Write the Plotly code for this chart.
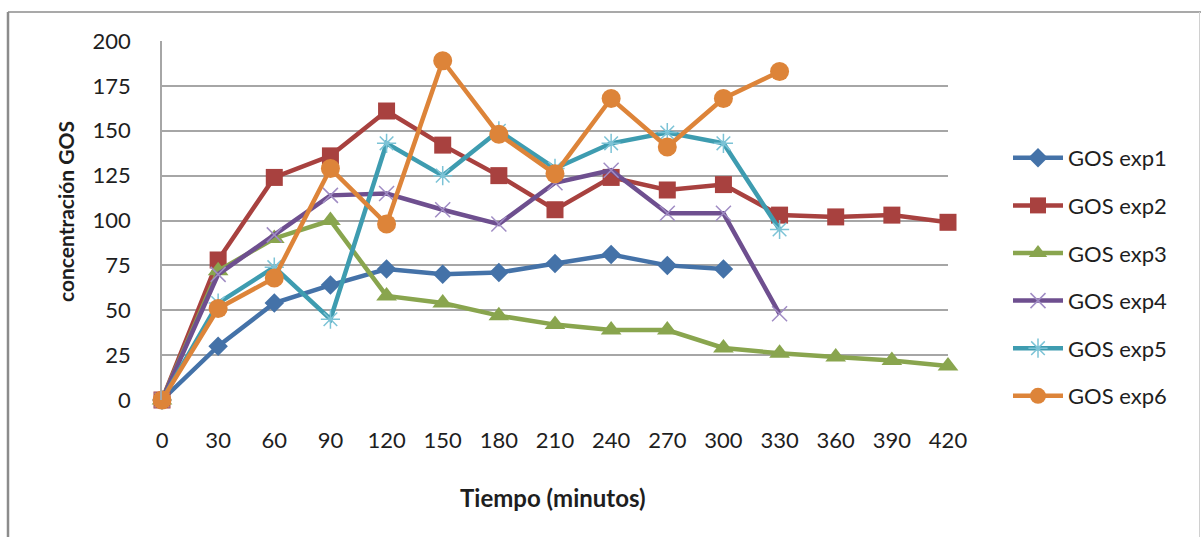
import plotly.graph_objects as go

# Time points (minutes) and GOS concentration per experiment
tiempo = [0, 30, 60, 90, 120, 150, 180, 210, 240, 270, 300, 330, 360, 390, 420]

gos_exp1 = [0, 30, 54, 64, 73, 70, 71, 76, 81, 75, 73]
gos_exp2 = [0, 78, 124, 136, 161, 142, 125, 106, 124, 117, 120, 103, 102, 103, 99]
gos_exp3 = [0, 72, 90, 100, 58, 54, 47, 42, 39, 39, 29, 26, 24, 22, 19]
gos_exp4 = [0, 70, 92, 114, 115, 106, 98, 121, 128, 104, 104, 48]
gos_exp5 = [0, 54, 74, 45, 143, 125, 150, 129, 143, 149, 143, 95]
gos_exp6 = [0, 51, 68, 129, 98, 189, 148, 126, 168, 141, 168, 183]

series_names = ["GOS exp1", "GOS exp2", "GOS exp3", "GOS exp4", "GOS exp5", "GOS exp6"]
y_ticks = [0, 25, 50, 75, 100, 125, 150, 175, 200]

FONT = "Lato"
TEXT = "#1e1e1e"

styles = [
    dict(color="#4472A8", symbol="diamond", size=15, mcolor="#4472A8", lw=0),
    dict(color="#A8413F", symbol="square", size=17, mcolor="#A8413F", lw=0),
    dict(color="#89A54E", symbol="triangle-up", size=18, mcolor="#89A54E", lw=0),
    dict(color="#6E4F8F", symbol="x-thin", size=15, mcolor="#A08CC4", lw=1.5),
    dict(color="#3E9CB0", symbol="asterisk", size=16, mcolor="#7CC3D6", lw=1.5),
    dict(color="#DD8439", symbol="circle", size=19, mcolor="#DD8439", lw=0),
]

data = [gos_exp1, gos_exp2, gos_exp3, gos_exp4, gos_exp5, gos_exp6]

fig = go.Figure()
for i, (name, vals, st) in enumerate(zip(series_names, data, styles)):
    marker = dict(symbol=st["symbol"], size=st["size"], color=st["mcolor"])
    if st["lw"]:
        marker["line"] = dict(color=st["mcolor"], width=st["lw"])
    else:
        marker["line"] = dict(width=0)
    fig.add_trace(go.Scatter(
        x=tiempo[:len(vals)], y=vals, name=name, mode="lines+markers",
        line=dict(color=st["color"], width=4.5),
        marker=marker, cliponaxis=False, legendgroup=f"g{i}",
    ))

L, R, T, B = 162, 253, 41, 137
W, H = 1201, 537
pw, ph = W - L - R, H - T - B


def px_x(p):
    return (p - L) / pw


def px_y(p):
    return (H - B - p) / ph


fig.update_layout(
    width=W, height=H,
    margin=dict(l=L, r=R, t=T, b=B),
    paper_bgcolor="white", plot_bgcolor="white",
    font=dict(family=FONT, size=22, color=TEXT),
    showlegend=True,
    legend=dict(
        x=px_x(1008), y=px_y(137), xanchor="left", yanchor="top",
        font=dict(family=FONT, size=22, color=TEXT),
        tracegroupgap=16, itemwidth=50, bgcolor="rgba(0,0,0,0)",
    ),
    xaxis=dict(
        range=[0, 420], tickvals=tiempo, ticktext=[str(t) for t in tiempo],
        showgrid=False, zeroline=False, showline=False, ticks="",
        ticklabelstandoff=25, fixedrange=True,
    ),
    yaxis=dict(
        range=[0, 200], tickvals=y_ticks, showgrid=True, gridcolor="#A6A6A6",
        gridwidth=1.5, zeroline=False, showline=True, linecolor="#A6A6A6",
        linewidth=1.5, ticks="", ticklabelstandoff=25, fixedrange=True,
    ),
    annotations=[
        dict(text="<b>Tiempo (minutos)</b>", xref="paper", yref="paper",
             x=px_x(553), y=px_y(498), showarrow=False, xanchor="center", yanchor="middle",
             font=dict(family=FONT, size=24, color=TEXT)),
        dict(text="<b>concentración GOS</b>", xref="paper", yref="paper",
             x=px_x(65), y=px_y(212), showarrow=False, textangle=-90,
             xanchor="center", yanchor="middle",
             font=dict(family=FONT, size=21, color=TEXT)),
    ],
    shapes=[
        # chart frame: left, top and right edges
        dict(type="line", xref="paper", yref="paper", x0=px_x(8), x1=px_x(8),
             y0=px_y(12), y1=px_y(540), line=dict(color="#8C8C8C", width=2.5)),
        dict(type="line", xref="paper", yref="paper", x0=px_x(8), x1=px_x(1202),
             y0=px_y(12), y1=px_y(12), line=dict(color="#8C8C8C", width=1.5)),
        dict(type="line", xref="paper", yref="paper", x0=px_x(1199.5), x1=px_x(1199.5),
             y0=px_y(12), y1=px_y(540), line=dict(color="#D0D0D0", width=1)),
    ],
)

fig.write_html("out.html")
